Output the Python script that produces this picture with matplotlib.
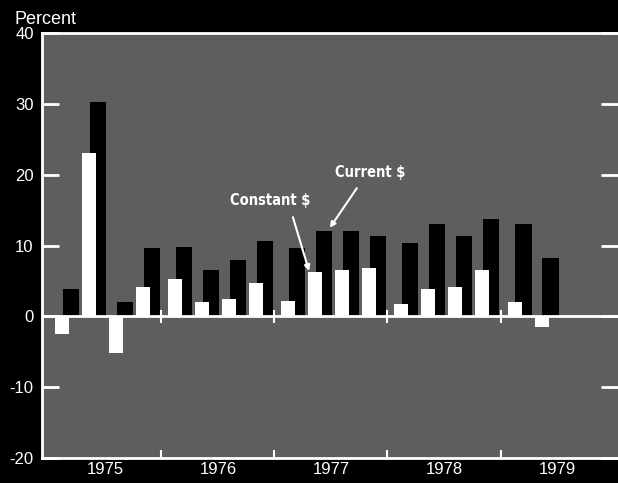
import numpy as np
import matplotlib.pyplot as plt

plt.rcParams['axes.unicode_minus'] = False

# quarterly growth, 1975 Q1 - 1979 Q2
years = ['1975', '1976', '1977', '1978', '1979']
quarters_per_year = [4, 4, 4, 4, 2]
constant = [-2.5, 23.1, -5.2, 4.2, 5.3, 2.0, 2.4, 4.7, 2.1, 6.2, 6.6, 6.8,
            1.8, 3.9, 4.2, 6.6, 2.0, -1.5]
current = [3.8, 30.3, 2.0, 9.6, 9.8, 6.6, 8.0, 10.7, 9.6, 12.1, 12.1, 11.4,
           10.4, 13.1, 11.4, 13.8, 13.1, 8.2]
yticks = [40, 30, 20, 10, 0, -10, -20]

YEAR_W = 4.19  # width of a year in quarter units (small gap between years)

pos = []
for i, n in enumerate(quarters_per_year):
    for q in range(n):
        pos.append(i * YEAR_W + q)
pos = np.array(pos)

fig = plt.figure(figsize=(6.18, 4.83), dpi=100, facecolor='black')
ax = fig.add_axes([42 / 618, 25 / 483, 1 - 42 / 618, 425 / 483])
ax.set_facecolor('#5e5e5e')

ax.bar(pos + 0.29, current, width=0.6, align='edge', color='black', zorder=2)
ax.bar(pos, constant, width=0.52, align='edge', color='white', zorder=3)

ax.axhline(0, color='white', lw=2, zorder=4)

ax.set_xlim(-0.48, 20.85)
ax.set_ylim(-20, 40)

# year separators, on the zero line and on the bottom axis
seps = [i * YEAR_W + 3.93 for i in range(4)]
ax.vlines(seps, -0.9, 0.9, color='white', lw=1.5, zorder=5)
ax.set_xticks(seps)
ax.set_xticklabels([])
ax.set_xticks([i * YEAR_W + 1.85 for i in range(5)], minor=True)
ax.set_xticklabels(years, minor=True)
ax.tick_params(axis='x', which='major', direction='in', length=6,
               width=1.5, color='white')
ax.tick_params(axis='x', which='minor', length=0, pad=3, labelsize=12,
               labelcolor='white')

ax.set_yticks(yticks)
ax.tick_params(axis='y', direction='in', length=12, width=2, color='white',
               right=True, labelsize=12, labelcolor='white', pad=6)

for lab in ax.get_xticklabels(minor=True) + ax.get_yticklabels():
    lab.set_family('Liberation Sans')

for s in ['left', 'top', 'bottom']:
    ax.spines[s].set_color('white')
    ax.spines[s].set_linewidth(2)
ax.spines['right'].set_visible(False)

fig.text(14 / 618, 1 - 19 / 483, 'Percent', color='white', fontsize=13,
         family='Liberation Sans', va='center', ha='left')

# labels and pointer lines
lab_kw = dict(color='white', fontsize=10.5, weight='bold',
              fontstretch='condensed', family=['Liberation Sans Narrow', 'DejaVu Sans'],
              zorder=6, ha='center', va='center')
arrow_kw = dict(arrowstyle='-|>', color='white', lw=1.5,
                shrinkA=0, shrinkB=0, mutation_scale=8)
ax.text(pos[9] - 1.4, 16.3, 'Constant $', **lab_kw)
ax.annotate('', xy=(pos[9] + 0.03, constant[9] + 0.2),
            xytext=(pos[9] - 0.57, 14.0), arrowprops=arrow_kw, zorder=6)
ax.text(pos[9] + 2.3, 20.3, 'Current $', **lab_kw)
ax.annotate('', xy=(pos[9] + 0.8, current[9] + 0.4),
            xytext=(pos[9] + 1.8, 18.1), arrowprops=arrow_kw, zorder=6)

fig.savefig('out.png', dpi=100, facecolor='black')
